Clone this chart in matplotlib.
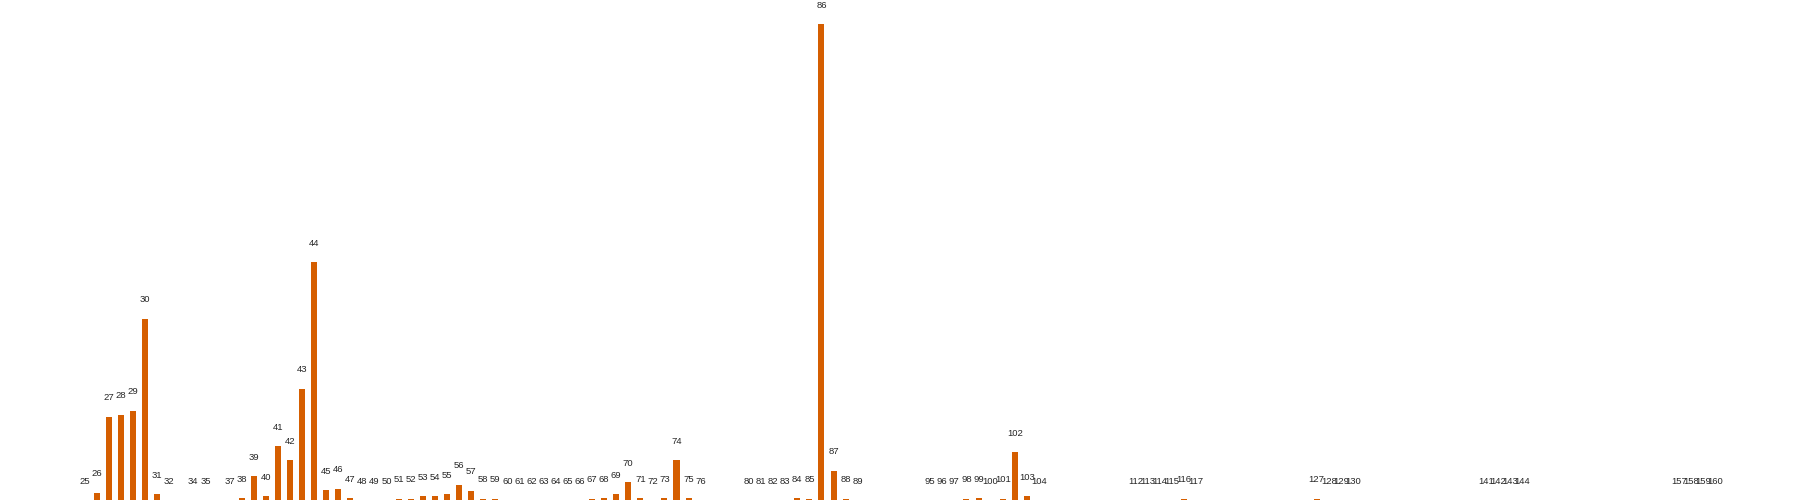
import matplotlib
matplotlib.use("Agg")
import matplotlib.pyplot as plt

categories = [25, 26, 27, 28, 29, 30, 31, 32, 34, 35, 37, 38, 39, 40, 41, 42, 43, 44,
              45, 46, 47, 48, 49, 50, 51, 52, 53, 54, 55, 56, 57, 58, 59, 60, 61, 62,
              63, 64, 65, 66, 67, 68, 69, 70, 71, 72, 73, 74, 75, 76, 80, 81, 82, 83,
              84, 85, 86, 87, 88, 89, 95, 96, 97, 98, 99, 100, 101, 102, 103, 104,
              112, 113, 114, 115, 116, 117, 127, 128, 129, 130, 141, 142, 143, 144,
              157, 158, 159, 160]
values = [0, 7, 83, 85, 89, 181, 6, 0, 0, 0, 0, 2, 24, 4, 54, 40, 111, 238,
          10, 11, 2, 0, 0, 0, 1, 1, 4, 4, 6, 15, 9, 1, 1, 0, 0, 0,
          0, 0, 0, 0, 1, 2, 6, 18, 2, 0, 2, 40, 2, 0, 0, 0, 0, 0,
          2, 1, 476, 29, 1, 0, 0, 0, 0, 1, 2, 0, 1, 48, 4, 0,
          0, 0, 0, 0, 1, 0, 1, 0, 0, 0, 0, 0, 0, 0,
          0, 0, 0, 0]
labels = [str(c) for c in categories]

fig = plt.figure(figsize=(18, 5), dpi=100)
ax = fig.add_axes([0, 0, 1, 1])
ax.bar(categories, values, width=0.5, color="#D55E00")
for x, v, lab in zip(categories, values, labels):
    ax.annotate(lab, xy=(x, v), xytext=(0, 19), textcoords="offset pixels",
                ha="center", va="center", fontsize=6.8, color="#262626",
                family="Liberation Sans")
ax.set_xlim(18, 167)
ax.set_ylim(0, 500)
ax.axis("off")
fig.savefig("out.png", dpi=100)
